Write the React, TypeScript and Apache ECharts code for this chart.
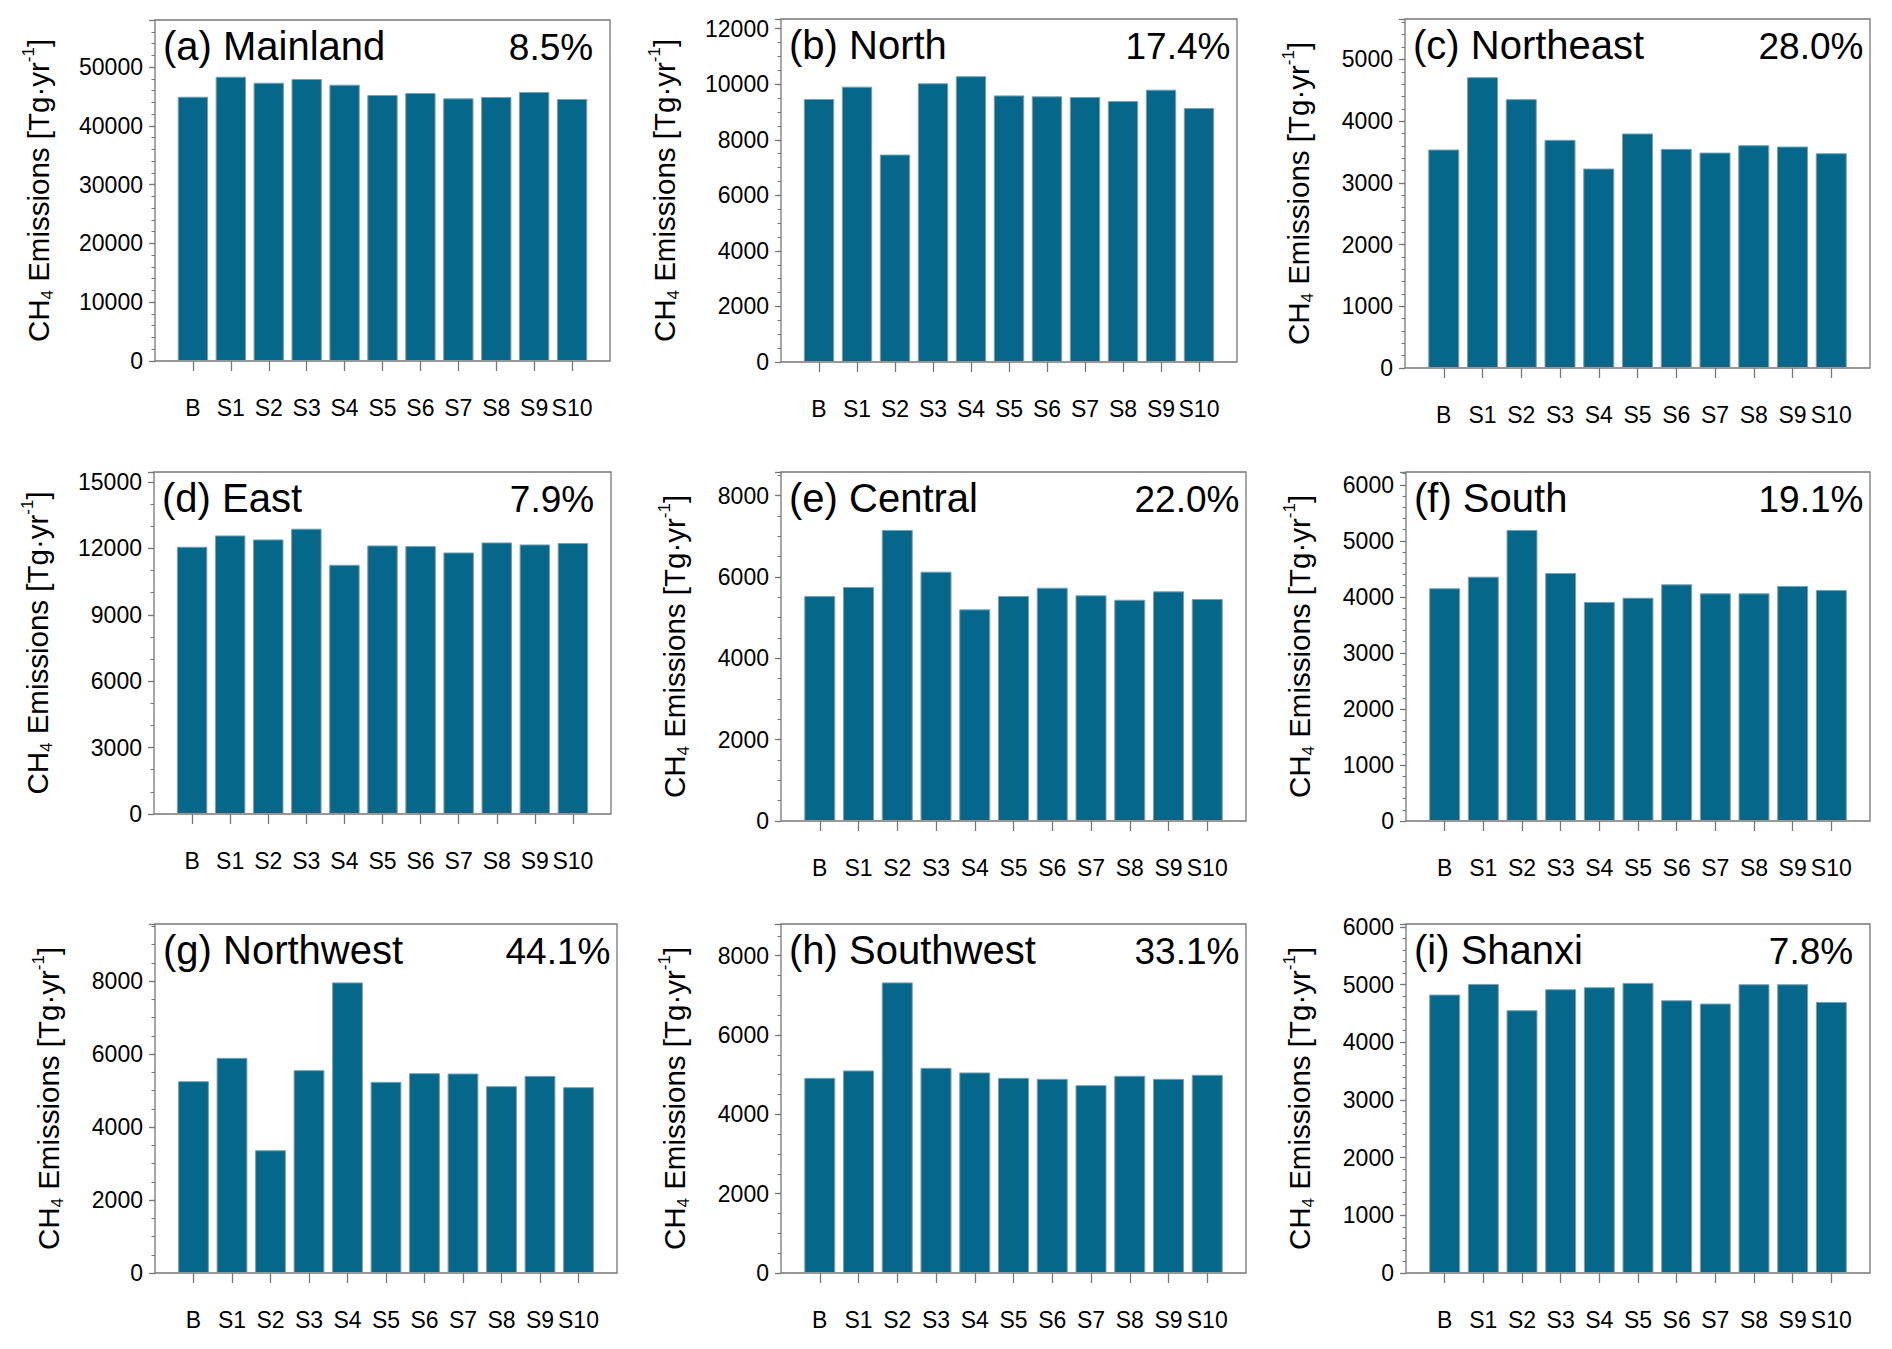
import React, { useEffect, useRef } from 'react';
import * as echarts from 'echarts';

const categories = ['B', 'S1', 'S2', 'S3', 'S4', 'S5', 'S6', 'S7', 'S8', 'S9', 'S10'];
const panelLabels = ['(a) Mainland', '(b) North', '(c) Northeast', '(d) East', '(e) Central', '(f) South', '(g) Northwest', '(h) Southwest', '(i) Shanxi'];
const percentLabels = ['8.5%', '17.4%', '28.0%', '7.9%', '22.0%', '19.1%', '44.1%', '33.1%', '7.8%'];

const mainland = [44950, 48350, 47330, 47960, 46990, 45240, 45580, 44670, 44900, 45750, 44560];
const north = [9470, 9915, 7470, 10035, 10290, 9600, 9565, 9540, 9395, 9805, 9145];
const northeast = [3540, 4712, 4356, 3697, 3232, 3800, 3551, 3491, 3610, 3589, 3480];
const east = [12073, 12585, 12404, 12888, 11258, 12132, 12105, 11815, 12268, 12178, 12241];
const central = [5531, 5753, 7156, 6129, 5203, 5531, 5735, 5548, 5440, 5646, 5457];
const south = [4154, 4361, 5196, 4427, 3909, 3986, 4225, 4064, 4064, 4195, 4123];
const northwest = [5258, 5897, 3365, 5559, 7965, 5239, 5477, 5468, 5121, 5403, 5093];
const southwest = [4921, 5107, 7328, 5173, 5057, 4921, 4896, 4737, 4972, 4896, 4997];
const shanxi = [4827, 5011, 4555, 4919, 4954, 5029, 4728, 4671, 5006, 5006, 4699];

const panelValues = [mainland, north, northeast, east, central, south, northwest, southwest, shanxi];

const yMax = [58000, 12350, 5655, 15450, 8580, 6230, 9565, 8800, 6050];
const yMajor = [10000, 2000, 1000, 3000, 2000, 1000, 2000, 2000, 1000];
const yMinor = [2000, 500, 200, 1000, 500, 200, 500, 500, 200];

// layout: frame [left, top, right, bottom] in px
const frames = [
  [155, 20, 610, 361],
  [781, 19, 1237, 362],
  [1405, 19, 1870, 368],
  [154, 472, 611, 814],
  [781, 472, 1246, 821],
  [1406, 472, 1870, 821],
  [155, 924, 617, 1273],
  [781, 924, 1246, 1273],
  [1406, 924, 1870, 1273],
];

const FONT = '"Liberation Sans", Arial, Helvetica, sans-serif';
const BAR_COLOR = '#05688a';
const FRAME_COLOR = '#777777';

function buildOption() {
  const grid: any[] = [];
  const xAxis: any[] = [];
  const yAxis: any[] = [];
  const series: any[] = [];
  const graphic: any[] = [];
  const axisCats = ['', ...categories, ''];

  panelValues.forEach((vals, i) => {
    const [l, t, r, b] = frames[i];
    grid.push({
      left: l,
      top: t,
      width: r - l,
      height: b - t,
      show: true,
      borderColor: FRAME_COLOR,
      borderWidth: 1.3,
      backgroundColor: 'transparent',
      containLabel: false,
      outerBoundsMode: 'none',
    });
    xAxis.push({
      type: 'category',
      gridIndex: i,
      data: axisCats,
      boundaryGap: false,
      axisLine: { show: false },
      axisTick: {
        show: true,
        length: 10,
        interval: (_idx: number, val: string) => val !== '',
        lineStyle: { color: FRAME_COLOR, width: 1.3 },
      },
      axisLabel: {
        interval: 0,
        margin: 35,
        fontSize: 23,
        color: '#000',
        fontFamily: FONT,
      },
      splitLine: { show: false },
    });
    const major = yMajor[i];
    const topLabel = Math.floor(yMax[i] / major) * major;
    const digits = String(topLabel).length;
    yAxis.push({
      type: 'value',
      gridIndex: i,
      position: 'left',
      min: 0,
      max: yMax[i],
      interval: major,
      axisLine: { show: false },
      axisTick: { show: true, length: 6, lineStyle: { color: FRAME_COLOR, width: 1.3 } },
      axisLabel: {
        margin: 12,
        fontSize: 23,
        color: '#000',
        fontFamily: FONT,
        showMaxLabel: true,
        formatter: (v: number) => (Math.abs(v % major) < 1e-6 ? String(v) : ''),
      },
      splitLine: { show: false },
      name: '{m|CH}{s|4}{m| Emissions [Tg·yr}{p|-1}{m|]}',
      nameLocation: 'middle',
      nameRotate: 90,
      nameGap: digits >= 5 ? 99 : 89,
      nameTextStyle: {
        fontFamily: FONT,
        color: '#000',
        rich: {
          m: { fontSize: 29.5, lineHeight: 36, fontFamily: FONT, color: '#000' },
          s: { fontSize: 17, lineHeight: 17, verticalAlign: 'bottom', fontFamily: FONT, color: '#000' },
          p: { fontSize: 17, lineHeight: 17, verticalAlign: 'top', fontFamily: FONT, color: '#000' },
        },
      },
    });
    yAxis.push({
      type: 'value',
      gridIndex: i,
      position: 'left',
      min: 0,
      max: yMax[i],
      interval: yMinor[i],
      axisLine: { show: false },
      axisTick: { show: true, length: 3.5, lineStyle: { color: FRAME_COLOR, width: 1.1 } },
      axisLabel: { show: false },
      splitLine: { show: false },
    });
    series.push({
      type: 'bar',
      xAxisIndex: i,
      yAxisIndex: 2 * i,
      data: ['-', ...vals, '-'],
      barWidth: '80%',
      itemStyle: { color: BAR_COLOR, borderColor: '#8d9aa0', borderWidth: 1 },
      silent: true,
    });
    graphic.push({
      type: 'text',
      x: l + 8,
      y: t + 26,
      silent: true,
      style: {
        text: panelLabels[i],
        fontSize: 40,
        fontFamily: FONT,
        fill: '#000',
        textAlign: 'left',
        textVerticalAlign: 'middle',
        align: 'left',
        verticalAlign: 'middle',
      },
    });
    graphic.push({
      type: 'text',
      x: r - 59,
      y: t + 27,
      silent: true,
      style: {
        text: percentLabels[i],
        fontSize: 37,
        fontFamily: FONT,
        fill: '#000',
        textAlign: 'center',
        textVerticalAlign: 'middle',
        align: 'center',
        verticalAlign: 'middle',
      },
    });
  });

  return {
    animation: false,
    backgroundColor: '#ffffff',
    textStyle: { fontFamily: FONT },
    grid,
    xAxis,
    yAxis,
    series,
    graphic,
  };
}

export default function App() {
  const ref = useRef<HTMLDivElement>(null);
  useEffect(() => {
    if (!ref.current) return;
    const chart = echarts.init(ref.current, null, { renderer: 'svg', width: 1892, height: 1349 });
    chart.setOption(buildOption() as any);
    return () => {
      chart.dispose();
    };
  }, []);
  return (
    <div
      ref={ref}
      style={{ position: 'absolute', left: 0, top: 0, width: 1892, height: 1349, background: '#fff' }}
    />
  );
}
